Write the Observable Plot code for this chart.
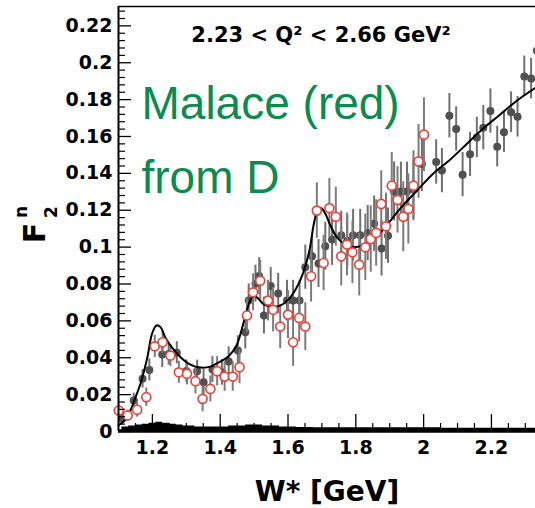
<!DOCTYPE html>
<html><head><meta charset="utf-8">
<script src="https://cdn.jsdelivr.net/npm/d3@7"></script>
<script src="https://cdn.jsdelivr.net/npm/@observablehq/plot@0.6"></script>
<style>body{margin:0;background:#fff}#chart svg{display:block}</style>
</head><body><div id="chart"></div>
<script>
// ---- data ----
const grayW = [1.111,1.145,1.171,1.191,1.229,1.248,1.272,1.300,1.332,1.351,1.377,1.405,1.425,1.452,1.474,1.484,1.504,1.515,1.529,1.549,1.571,1.597,1.615,1.634,1.651,1.671,1.690,1.710,1.730,1.757,1.775,1.792,1.813,1.835,1.854,1.876,1.895,1.913,1.933,1.951,1.970,1.995,2.037,2.054,2.076,2.096,2.115,2.137,2.157,2.176,2.197,2.217,2.237,2.258,2.277,2.297,2.317,2.334];
const grayF = [0.0069,0.0168,0.0286,0.0334,0.0417,0.0421,0.0427,0.0328,0.0327,0.0267,0.0336,0.0321,0.0379,0.0439,0.0538,0.0710,0.0802,0.0843,0.0629,0.0789,0.0748,0.0710,0.0710,0.0710,0.0891,0.0951,0.0911,0.1005,0.1041,0.1065,0.1035,0.1065,0.1065,0.1076,0.1127,0.0993,0.1062,0.1302,0.1301,0.1301,0.1312,0.1451,0.1462,0.1415,0.1713,0.1641,0.1393,0.1503,0.1595,0.1648,0.1738,0.1545,0.1623,0.1732,0.1707,0.1926,0.1914,0.2065];
const grayErr = [0.003,0.004,0.005,0.006,0.007,0.006,0.006,0.006,0.006,0.007,0.007,0.007,0.008,0.008,0.009,0.009,0.010,0.010,0.010,0.010,0.011,0.011,0.011,0.011,0.012,0.012,0.013,0.013,0.014,0.013,0.014,0.014,0.014,0.015,0.015,0.015,0.015,0.016,0.016,0.016,0.016,0.015,0.012,0.012,0.012,0.012,0.012,0.012,0.011,0.012,0.012,0.011,0.011,0.011,0.011,0.011,0.011,0.011];

const redW = [1.101,1.127,1.155,1.182,1.207,1.230,1.253,1.278,1.302,1.327,1.348,1.371,1.391,1.413,1.437,1.457,1.479,1.497,1.518,1.541,1.556,1.577,1.600,1.615,1.633,1.651,1.668,1.685,1.705,1.722,1.741,1.757,1.774,1.790,1.810,1.828,1.844,1.860,1.875,1.889,1.906,1.923,1.940,1.955,1.970,1.985,2.001];
const redF = [0.0114,0.0087,0.0118,0.0186,0.0462,0.0484,0.0412,0.0321,0.0313,0.0273,0.0177,0.0231,0.0327,0.0298,0.0298,0.0349,0.0629,0.0755,0.0818,0.0710,0.0660,0.0569,0.0634,0.0484,0.0616,0.0569,0.0842,0.1198,0.0914,0.1212,0.1165,0.0950,0.1014,0.0972,0.0905,0.0999,0.1044,0.1077,0.1234,0.1113,0.1333,0.1256,0.1165,0.1207,0.1333,0.1465,0.1610];
const redErr = [0.003,0.003,0.004,0.005,0.006,0.006,0.006,0.006,0.006,0.007,0.007,0.007,0.008,0.008,0.008,0.009,0.009,0.010,0.011,0.011,0.012,0.012,0.013,0.013,0.013,0.013,0.014,0.015,0.015,0.016,0.016,0.016,0.017,0.017,0.017,0.018,0.018,0.018,0.018,0.018,0.018,0.018,0.019,0.019,0.019,0.020,0.020];

const fitW = [1.100,1.118,1.135,1.150,1.165,1.185,1.199,1.212,1.224,1.238,1.258,1.283,1.312,1.342,1.371,1.400,1.424,1.448,1.469,1.486,1.499,1.512,1.530,1.553,1.577,1.601,1.624,1.645,1.663,1.677,1.689,1.698,1.710,1.724,1.745,1.769,1.800,1.831,1.872,1.931,1.980,2.028,2.078,2.128,2.175,2.225,2.275,2.330];
const fitF = [0.0033,0.0060,0.0114,0.0185,0.0260,0.0401,0.0531,0.0575,0.0566,0.0510,0.0455,0.0403,0.0363,0.0347,0.0352,0.0379,0.0407,0.0466,0.0591,0.0699,0.0737,0.0721,0.0688,0.0678,0.0683,0.0715,0.0775,0.0862,0.0981,0.1133,0.1209,0.1211,0.1182,0.1122,0.1051,0.1014,0.1000,0.1019,0.1079,0.1209,0.1306,0.1398,0.1474,0.1561,0.1642,0.1718,0.1794,0.1864];

const bandW = [1.1,1.12,1.14,1.16,1.18,1.2,1.22,1.24,1.26,1.28,1.3,1.35,1.4,1.45,1.5,1.55,1.6,1.65,1.7,1.8,1.9,2.0,2.1,2.2,2.33];
const bandF = [0.001,0.0025,0.003,0.0035,0.004,0.0045,0.005,0.0045,0.004,0.0035,0.003,0.0025,0.0025,0.003,0.0035,0.003,0.0025,0.0022,0.002,0.002,0.002,0.002,0.0018,0.0018,0.0018];

const xTicks = [1.2,1.4,1.6,1.8,2.0,2.2];
const xTickLabels = ["1.2","1.4","1.6","1.8","2","2.2"];
const yTicks = [0,0.02,0.04,0.06,0.08,0.10,0.12,0.14,0.16,0.18,0.20,0.22];
const yTickLabels = ["0","0.02","0.04","0.06","0.08","0.1","0.12","0.14","0.16","0.18","0.2","0.22"];

const titleText = "2.23 < Q\u00B2 < 2.66 GeV\u00B2";
const xTitle = "W* [GeV]";
const noteLine1 = "Malace (red)";
const noteLine2 = "from D";

// ---- tables ----
const gray = grayW.map((w,i)=>({w, f: grayF[i], e: grayErr[i]}));
const red = redW.map((w,i)=>({w, f: redF[i], e: redErr[i]}));
const fit = fitW.map((w,i)=>({w, f: fitF[i]}));
const band = bandW.map((w,i)=>({w, f: bandF[i]}));

const xDomain = [1.1, 2.33];
const yDomain = [0, 0.2305];
const xMinor = d3.range(1, 25).map(i => +(1.1 + i*0.05).toFixed(2)).filter(v => !xTicks.some(t => Math.abs(t - v) < 1e-6));
const yMinor = d3.range(1, 58).map(i => +(i*0.004).toFixed(3)).filter(v => !yTicks.some(t => Math.abs(t - v) < 1e-6));

const FONT = "'DejaVu Sans', sans-serif";

const chart = Plot.plot({
  width: 535, height: 508,
  marginLeft: 118, marginRight: 0, marginTop: 6, marginBottom: 77,
  x: {domain: xDomain},
  y: {domain: yDomain},
  style: {fontFamily: FONT, fontWeight: "bold", fontSize: "19px", color: "black", background: "white"},
  marks: [
    Plot.areaY(band, {x: "w", y: "f", fill: "black", curve: "step"}),
    Plot.ruleX(gray, {x: "w", y1: d => d.f - d.e, y2: d => d.f + d.e, stroke: "#707070", strokeWidth: 2}),
    Plot.dot(gray, {x: "w", y: "f", r: 4, fill: "#505050"}),
    Plot.ruleX(red, {x: "w", y1: d => d.f - d.e, y2: d => d.f + d.e, stroke: "#7c7c7c", strokeWidth: 2}),
    Plot.line(fit, {x: "w", y: "f", stroke: "black", strokeWidth: 2, curve: "catmull-rom"}),
    Plot.dot(red, {x: "w", y: "f", r: 4.5, fill: "white", stroke: "#e8463c", strokeWidth: 1.7}),
    // frame (left, bottom, top)
    Plot.ruleX([xDomain[0]], {stroke: "black", strokeWidth: 2}),
    Plot.ruleY([yDomain[0]], {stroke: "black", strokeWidth: 2.5}),
    Plot.ruleY([yDomain[1]], {stroke: "black", strokeWidth: 1.5}),
    // inward ticks
    Plot.axisY(yTicks, {anchor: "left", tickSize: 13, dx: 13, tickFormat: () => "", label: null, strokeWidth: 1.3}),
    Plot.axisY(yMinor, {anchor: "left", tickSize: 7, dx: 7, tickFormat: () => "", label: null, strokeWidth: 1.2}),
    Plot.axisX(xTicks, {anchor: "bottom", tickSize: 17, dy: -17, tickFormat: () => "", label: null, strokeWidth: 1.3}),
    Plot.axisX(xMinor, {anchor: "bottom", tickSize: 8, dy: -8, tickFormat: () => "", label: null, strokeWidth: 1.2}),
    // tick labels
    Plot.axisY(yTicks, {anchor: "left", tickSize: 0, tickPadding: 6, tickFormat: d => yTickLabels[yTicks.indexOf(d)], label: null, fontSize: 19}),
    Plot.axisX(xTicks, {anchor: "bottom", tickSize: 0, tickPadding: 9, tickFormat: d => xTickLabels[xTicks.indexOf(d)], label: null, fontSize: 19}),
    // titles
    Plot.text([titleText], {frameAnchor: "top", dx: -6, dy: 21, lineAnchor: "top", fontSize: 21, fontWeight: "bold", fill: "black"}),
    Plot.text([xTitle], {frameAnchor: "bottom", dx: 0, dy: 69, lineAnchor: "bottom", fontSize: 28, fontWeight: "bold", fill: "black"}),
    Plot.text([noteLine1], {frameAnchor: "top-left", textAnchor: "start", dx: 23, dy: 112, lineAnchor: "bottom", fontSize: 46, fontWeight: "normal", fontFamily: "'Liberation Sans', Arial, sans-serif", fill: "#0b8b4e"}),
    Plot.text([noteLine2], {frameAnchor: "top-left", textAnchor: "start", dx: 23, dy: 186, lineAnchor: "bottom", fontSize: 46, fontWeight: "normal", fontFamily: "'Liberation Sans', Arial, sans-serif", fill: "#0b8b4e"})
  ]
});

// y-axis title F^n_2 (rotated, stacked super/subscript)
const svg = d3.select(chart);
const yl = svg.append("text")
  .attr("transform", "translate(45,233) rotate(-90)")
  .attr("font-family", FONT).attr("font-weight", "bold").attr("fill", "black");
yl.append("tspan").attr("x", 0).attr("font-size", 30).text("F");
yl.append("tspan").attr("x", 21).attr("dy", -18).attr("font-size", 17).text("n");
yl.append("tspan").attr("x", 21).attr("dy", 30).attr("font-size", 17).text("2");

document.getElementById("chart").append(chart);
</script></body></html>
